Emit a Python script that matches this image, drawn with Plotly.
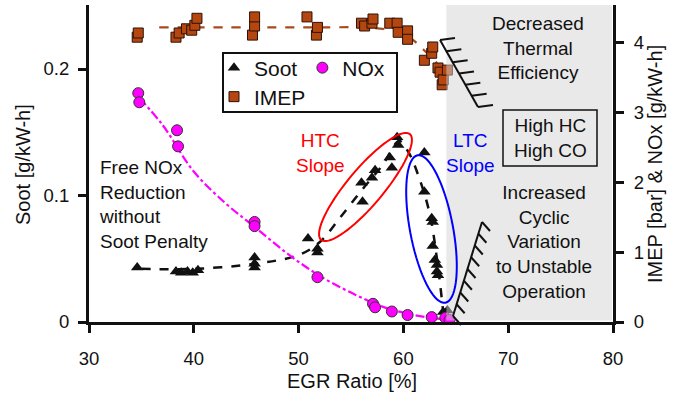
import math
import plotly.graph_objects as go

# ---------------- data ----------------
soot_x = [34.6, 38.3, 38.8, 39.4, 39.9, 40.4, 45.8, 45.8, 45.8, 50.9, 51.8, 51.8,
          56.0, 56.1, 57.0, 57.3, 58.7, 58.9, 59.4, 59.5,
          62.0, 62.0, 62.7, 62.8, 62.8, 63.0, 63.2, 63.2, 63.3, 63.8, 64.2]
soot_y = [0.043, 0.040, 0.039, 0.040, 0.039, 0.041, 0.051, 0.046, 0.043, 0.066, 0.058, 0.055,
          0.110, 0.095, 0.114, 0.120, 0.130, 0.122, 0.146, 0.140,
          0.134, 0.103, 0.082, 0.079, 0.060, 0.049, 0.045, 0.040, 0.037, 0.008, 0.009]

nox_x = [34.7, 34.8, 38.4, 38.5, 45.8, 45.8, 51.8, 57.1, 57.3, 58.9, 60.4, 62.7, 64.0, 64.4]
nox_y = [3.27, 3.14, 2.74, 2.51, 1.43, 1.37, 0.64, 0.26, 0.21, 0.15, 0.10, 0.07, 0.06, 0.03]

imep_x = [34.6, 34.7, 38.3, 38.6, 39.3, 39.8, 40.1, 40.3, 45.6, 45.8, 45.8, 50.8, 51.7, 51.8,
          56.0, 56.3, 57.0, 57.1, 58.7, 59.4, 59.5, 60.4, 60.4,
          62.0, 62.7, 62.8, 63.3, 63.5, 63.7, 63.8, 64.2]
imep_y = [4.07, 4.13, 4.07, 4.13, 4.19, 4.17, 4.24, 4.34, 4.10, 4.23, 4.36, 4.36, 4.10, 4.21,
          4.27, 4.23, 4.27, 4.33, 4.27, 4.27, 4.14, 4.16, 4.04,
          3.74, 3.84, 3.93, 3.63, 3.57, 3.39, 3.46, 3.60]

# trend lines
soot_fit_x = [35.0, 40.0, 45.8, 50.0, 52.0, 54.0, 56.0, 58.0, 59.6, 60.5, 61.5, 62.5, 63.2, 63.8]
soot_fit_y = [0.042, 0.042, 0.046, 0.053, 0.063, 0.083, 0.104, 0.124, 0.143, 0.134, 0.114, 0.086, 0.050, 0.008]

nox_fit_x = [34.8, 37.0, 40.0, 43.0, 45.8, 49.0, 52.0, 55.0, 58.0, 61.0, 64.3]
nox_fit_y = [3.20, 2.82, 2.15, 1.70, 1.36, 0.97, 0.66, 0.42, 0.22, 0.10, 0.03]

imep_fit_x = [36.7, 45.0, 52.0, 56.0, 58.5, 60.0, 61.0, 62.0, 63.2]
imep_fit_y = [4.21, 4.21, 4.21, 4.21, 4.18, 4.12, 4.02, 3.88, 3.70]

x_ticks = [30, 40, 50, 60, 70, 80]
y_ticks = [0, 0.1, 0.2]
y_tick_text = ["0", "0.1", "0.2"]
y2_ticks = [0, 1, 2, 3, 4]

# ---------------- layout geometry ----------------
W, H = 686, 397
ML, MR, MT, MB = 89, 73, 5, 75
PW, PH = W - ML - MR, H - MT - MB
X_RANGE = [30, 80]
Y_RANGE = [0, 0.2506]
Y2_RANGE = [0, 4.53]


def px(xp):
    return (xp - ML) / PW


def py(yp):
    return (H - MB - yp) / PH


FONT = "Liberation Sans, Arial, sans-serif"
BLACK = "#111111"

fig = go.Figure()

# trend lines
fig.add_trace(go.Scatter(x=imep_fit_x, y=imep_fit_y, yaxis="y2", mode="lines",
                         line=dict(color="#a84a1e", width=2.2, dash="dash", shape="spline"),
                         showlegend=False, hoverinfo="skip"))
fig.add_trace(go.Scatter(x=nox_fit_x, y=nox_fit_y, yaxis="y2", mode="lines",
                         line=dict(color="#ff00ff", width=2.2, dash="dashdot", shape="spline"),
                         showlegend=False, hoverinfo="skip"))
fig.add_trace(go.Scatter(x=soot_fit_x, y=soot_fit_y, mode="lines",
                         line=dict(color=BLACK, width=2.5, dash="dash", shape="spline"),
                         showlegend=False, hoverinfo="skip"))

# markers
fig.add_trace(go.Scatter(x=soot_x, y=soot_y, mode="markers", name="Soot",
                         marker=dict(symbol="triangle-up", size=11, color=BLACK),
                         legend="legend"))
fig.add_trace(go.Scatter(x=nox_x, y=nox_y, yaxis="y2", mode="markers", name="NOx",
                         marker=dict(symbol="circle", size=11, color="#ff00ff",
                                     line=dict(color="#333333", width=1)),
                         legend="legend"))
fig.add_trace(go.Scatter(x=imep_x, y=imep_y, yaxis="y2", mode="markers", name="IMEP",
                         marker=dict(symbol="square", size=10, color="#b5460f",
                                     line=dict(color="#2a1208", width=1)),
                         legend="legend2"))

shapes = []
# shaded unstable region (drawn above so points there look grey)
shapes.append(dict(type="rect", xref="x", yref="paper", x0=64.1, x1=79.9, y0=0.005, y1=1,
                   fillcolor="rgba(212,212,212,0.5)", line=dict(width=0), layer="above"))


def ellipse_path(cx, cy, a, b, ang_deg, n=72):
    t = math.radians(ang_deg)
    pts = []
    for i in range(n + 1):
        th = 2 * math.pi * i / n
        ex, ey = a * math.cos(th), b * math.sin(th)
        xp = cx + ex * math.cos(t) - ey * math.sin(t)
        yp = cy - (ex * math.sin(t) + ey * math.cos(t))
        pts.append((px(xp), py(yp)))
    return "M " + " L ".join(f"{x:.5f},{y:.5f}" for x, y in pts) + " Z"


shapes.append(dict(type="path", xref="paper", yref="paper",
                   path=ellipse_path(365.5, 187, 69, 18, 50),
                   line=dict(color="#ff0000", width=2), layer="above"))
shapes.append(dict(type="path", xref="paper", yref="paper",
                   path=ellipse_path(431.5, 229, 75, 21.5, 100.7),
                   line=dict(color="#0000ff", width=2), layer="above"))


def hatch(p0, p1, n, vec):
    out = [dict(type="line", xref="paper", yref="paper",
                x0=px(p0[0]), y0=py(p0[1]), x1=px(p1[0]), y1=py(p1[1]),
                line=dict(color=BLACK, width=2), layer="above")]
    for i in range(n):
        f = i / (n - 1)
        xa = p0[0] + (p1[0] - p0[0]) * f
        ya = p0[1] + (p1[1] - p0[1]) * f
        out.append(dict(type="line", xref="paper", yref="paper",
                        x0=px(xa), y0=py(ya), x1=px(xa + vec[0]), y1=py(ya + vec[1]),
                        line=dict(color=BLACK, width=2), layer="above"))
    return out


shapes += hatch((440, 40), (478, 107), 7, (15, -2))
shapes += hatch((482, 222), (453, 316), 9, (8, 9))

# legend box and High HC box
shapes.append(dict(type="rect", xref="paper", yref="paper",
                   x0=px(223), x1=px(397), y0=py(112), y1=py(53),
                   line=dict(color=BLACK, width=2), fillcolor="white", layer="above"))
shapes.append(dict(type="rect", xref="paper", yref="paper",
                   x0=px(503), x1=px(597), y0=py(166), y1=py(110),
                   line=dict(color=BLACK, width=1.5), layer="above"))

ann_font = dict(family=FONT, size=19, color=BLACK)
annotations = [
    dict(text="Free NOx<br>Reduction<br>without<br>Soot Penalty", x=px(97), y=py(204.5),
         xanchor="left", yanchor="middle", align="left", font=ann_font),
    dict(text="HTC<br>Slope", x=px(320), y=py(152.5), xanchor="center", yanchor="middle",
         font=dict(family=FONT, size=19, color="#ff0000")),
    dict(text="LTC<br>Slope", x=px(470), y=py(152.5), xanchor="center", yanchor="middle",
         font=dict(family=FONT, size=19, color="#0000ff")),
    dict(text="Decreased<br>Thermal<br>Efficiency", x=px(538), y=py(47.5),
         xanchor="center", yanchor="middle", font=ann_font),
    dict(text="High HC<br>High CO", x=px(550), y=py(138), xanchor="center", yanchor="middle",
         font=ann_font),
    dict(text="Increased<br>Cyclic<br>Variation<br>to Unstable<br>Operation", x=px(544),
         y=py(241.5), xanchor="center", yanchor="middle", font=ann_font),
    # axis titles
    dict(text="EGR Ratio [%]", x=px(352), y=py(381), xanchor="center", yanchor="middle",
         font=dict(family=FONT, size=20, color=BLACK)),
    dict(text="Soot [g/kW-h]", x=px(23), y=py(165), textangle=-90, xanchor="center",
         yanchor="middle", font=dict(family=FONT, size=20, color=BLACK)),
    dict(text="IMEP [bar] & NOx [g/kW-h]", x=px(655), y=py(164), textangle=-90,
         xanchor="center", yanchor="middle", font=dict(family=FONT, size=20, color=BLACK)),
]
for a in annotations:
    a.setdefault("xref", "paper")
    a.setdefault("yref", "paper")
    a["showarrow"] = False

axis_common = dict(showgrid=False, zeroline=False, showline=True, linecolor=BLACK,
                   linewidth=3, ticks="outside", ticklen=8, tickwidth=2.5, tickcolor=BLACK,
                   tickfont=dict(family=FONT, size=18.5, color=BLACK))

fig.update_layout(
    width=W, height=H,
    margin=dict(l=ML, r=MR, t=MT, b=MB, autoexpand=False),
    paper_bgcolor="white", plot_bgcolor="white",
    font=dict(family=FONT, color=BLACK),
    hovermode=False,
    xaxis=dict(range=X_RANGE, tickvals=x_ticks, ticklabelstandoff=10, **axis_common),
    yaxis=dict(range=Y_RANGE, tickvals=y_ticks, ticktext=y_tick_text, ticklabelstandoff=5,
               **axis_common),
    yaxis2=dict(range=Y2_RANGE, tickvals=y2_ticks, overlaying="y", side="right",
                ticklabelstandoff=6, **axis_common),
    legend=dict(orientation="h", x=px(214), y=py(68), xanchor="left", yanchor="middle",
                font=dict(family=FONT, size=21, color=BLACK), bgcolor="rgba(0,0,0,0)",
                borderwidth=0, traceorder="normal"),
    legend2=dict(orientation="v", x=px(214), y=py(97), xanchor="left", yanchor="middle",
                 font=dict(family=FONT, size=21, color=BLACK), bgcolor="rgba(0,0,0,0)",
                 borderwidth=0),
    shapes=shapes,
    annotations=annotations,
)

fig.write_html("out.html", config={"displayModeBar": False},
               post_script="document.body.style.margin='0';")
